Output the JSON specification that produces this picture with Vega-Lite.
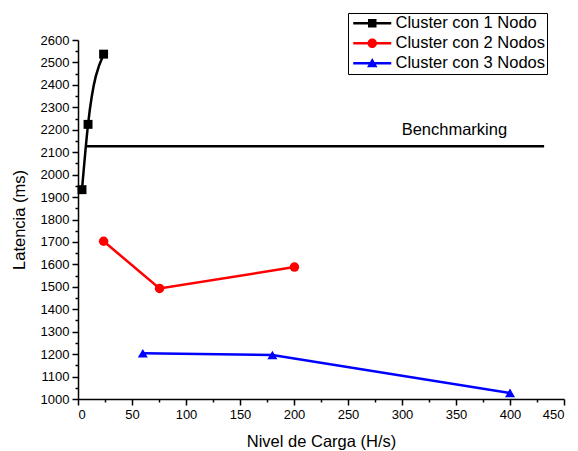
{
  "$schema": "https://vega.github.io/schema/vega-lite/v6.json",
  "width": 486,
  "height": 359,
  "autosize": "none",
  "padding": {"left": 78, "top": 40, "right": 14, "bottom": 52},
  "config": {
    "view": {"stroke": null},
    "font": "Liberation Sans",
    "axis": {
      "grid": false,
      "domainColor": "black",
      "domainWidth": 1.5,
      "tickColor": "black",
      "tickWidth": 1.5,
      "labelColor": "black",
      "titleColor": "black",
      "labelFont": "Liberation Sans",
      "titleFont": "Liberation Sans",
      "labelFontSize": 13,
      "titleFontSize": 16.5,
      "titleFontWeight": "normal"
    }
  },
  "datasets": {
    "series": [
      {"serie": "Cluster con 1 Nodo", "carga": 3.7, "latencia": 1933},
      {"serie": "Cluster con 1 Nodo", "carga": 9.3, "latencia": 2224},
      {"serie": "Cluster con 1 Nodo", "carga": 23.7, "latencia": 2537},
      {"serie": "Cluster con 2 Nodos", "carga": 23.7, "latencia": 1703},
      {"serie": "Cluster con 2 Nodos", "carga": 75.5, "latencia": 1493},
      {"serie": "Cluster con 2 Nodos", "carga": 200.4, "latencia": 1588},
      {"serie": "Cluster con 3 Nodos", "carga": 60, "latencia": 1204},
      {"serie": "Cluster con 3 Nodos", "carga": 180, "latencia": 1196},
      {"serie": "Cluster con 3 Nodos", "carga": 400, "latencia": 1027}
    ],
    "bench": [
      {"carga": 8.3, "latencia": 2126},
      {"carga": 431.6, "latencia": 2126}
    ],
    "etiqueta": [
      {"carga": 348.5, "latencia": 2176, "texto": "Benchmarking"}
    ]
  },
  "layer": [
    {
      "data": {"name": "series"},
      "mark": {"type": "point", "opacity": 0},
      "encoding": {
        "x": {"field": "carga", "type": "quantitative", "scale": {"domain": [0, 450], "nice": false, "zero": false},
          "axis": {"orient": "bottom", "values": [25, 75, 125, 175, 225, 275, 325, 375, 425], "labels": false, "domain": false, "tickSize": 3, "title": null}},
        "y": {"field": "latencia", "type": "quantitative", "scale": {"domain": [1000, 2600], "nice": false, "zero": false},
          "axis": {"orient": "left", "values": [1050, 1150, 1250, 1350, 1450, 1550, 1650, 1750, 1850, 1950, 2050, 2150, 2250, 2350, 2450, 2550], "labels": false, "domain": false, "tickSize": 3, "title": null}}
      }
    },
    {
      "data": {"name": "series"},
      "transform": [{"filter": "datum.serie === 'Cluster con 1 Nodo'"}],
      "mark": {"type": "line", "interpolate": "monotone", "color": "black", "strokeWidth": 2.5},
      "encoding": {
        "x": {"field": "carga", "type": "quantitative",
          "axis": {"orient": "bottom", "values": [0, 50, 100, 150, 200, 250, 300, 350, 400, 450], "format": "d", "tickSize": 6, "labelPadding": 3, "title": "Nivel de Carga (H/s)", "titlePadding": 12}},
        "y": {"field": "latencia", "type": "quantitative",
          "axis": {"orient": "left", "values": [1000, 1100, 1200, 1300, 1400, 1500, 1600, 1700, 1800, 1900, 2000, 2100, 2200, 2300, 2400, 2500, 2600], "format": "d", "tickSize": 6, "labelPadding": 3, "title": "Latencia (ms)", "titlePadding": 13}}
      }
    },
    {
      "data": {"name": "series"},
      "transform": [{"filter": "datum.serie === 'Cluster con 2 Nodos'"}],
      "mark": {"type": "line", "color": "#ff0000", "strokeWidth": 2.5},
      "encoding": {
        "x": {"field": "carga", "type": "quantitative", "axis": null},
        "y": {"field": "latencia", "type": "quantitative", "axis": null}
      }
    },
    {
      "data": {"name": "series"},
      "transform": [{"filter": "datum.serie === 'Cluster con 3 Nodos'"}],
      "mark": {"type": "line", "color": "#0000ff", "strokeWidth": 2.5},
      "encoding": {
        "x": {"field": "carga", "type": "quantitative", "axis": null},
        "y": {"field": "latencia", "type": "quantitative", "axis": null}
      }
    },
    {
      "data": {"name": "bench"},
      "mark": {"type": "line", "color": "black", "strokeWidth": 2.5},
      "encoding": {
        "x": {"field": "carga", "type": "quantitative", "axis": null},
        "y": {"field": "latencia", "type": "quantitative", "axis": null}
      }
    },
    {
      "data": {"name": "series"},
      "transform": [{"filter": "datum.serie === 'Cluster con 1 Nodo'"}],
      "mark": {"type": "point", "shape": "square", "filled": true, "opacity": 1, "size": 80, "color": "#000000"},
      "encoding": {
        "x": {"field": "carga", "type": "quantitative", "axis": null},
        "y": {"field": "latencia", "type": "quantitative", "axis": null}
      }
    },
    {
      "data": {"name": "series"},
      "transform": [{"filter": "datum.serie === 'Cluster con 2 Nodos'"}],
      "mark": {"type": "point", "shape": "circle", "filled": true, "opacity": 1, "size": 90, "color": "#ff0000"},
      "encoding": {
        "x": {"field": "carga", "type": "quantitative", "axis": null},
        "y": {"field": "latencia", "type": "quantitative", "axis": null}
      }
    },
    {
      "data": {"name": "series"},
      "transform": [{"filter": "datum.serie === 'Cluster con 3 Nodos'"}],
      "mark": {"type": "point", "shape": "triangle-up", "filled": true, "opacity": 1, "size": 100, "color": "#0000ff"},
      "encoding": {
        "x": {"field": "carga", "type": "quantitative", "axis": null},
        "y": {"field": "latencia", "type": "quantitative", "axis": null}
      }
    },
    {
      "data": {"name": "series"},
      "mark": {"type": "point", "filled": true, "opacity": 0},
      "encoding": {
        "x": {"field": "carga", "type": "quantitative", "axis": null},
        "y": {"field": "latencia", "type": "quantitative", "axis": null},
        "color": {"field": "serie", "type": "nominal",
          "scale": {"domain": ["Cluster con 1 Nodo", "Cluster con 2 Nodos", "Cluster con 3 Nodos"], "range": ["#000000", "#ff0000", "#0000ff"]},
          "legend": {"title": null, "orient": "none", "legendX": 270, "legendY": -27, "symbolSize": 100, "symbolOpacity": 1, "symbolStrokeWidth": 0, "labelFontSize": 16.5, "labelFont": "Liberation Sans", "labelColor": "black", "strokeColor": "black", "fillColor": "white", "padding": 2, "rowPadding": 3, "symbolOffset": 14, "labelOffset": 15}},
        "shape": {"field": "serie", "type": "nominal",
          "scale": {"domain": ["Cluster con 1 Nodo", "Cluster con 2 Nodos", "Cluster con 3 Nodos"],
            "range": ["M-3.8,-0.25H3.8V0.25H-3.8Z M-0.85,-0.85H0.85V0.85H-0.85Z", "M-3.8,-0.25H3.8V0.25H-3.8Z M-0.95,0A0.95,0.95 0 1,1 0.95,0A0.95,0.95 0 1,1 -0.95,0Z", "M-3.8,-0.25H3.8V0.25H-3.8Z M0,-1.05L1.05,0.8H-1.05Z"]},
          "legend": {"title": null, "orient": "none", "legendX": 270, "legendY": -27, "symbolSize": 100, "symbolOpacity": 1, "symbolStrokeWidth": 0, "labelFontSize": 16.5, "labelFont": "Liberation Sans", "labelColor": "black", "strokeColor": "black", "fillColor": "white", "padding": 2, "rowPadding": 3, "symbolOffset": 14, "labelOffset": 15}}
      }
    },
    {
      "data": {"name": "etiqueta"},
      "mark": {"type": "text", "align": "center", "baseline": "alphabetic", "fontSize": 16.5, "font": "Liberation Sans", "color": "black"},
      "encoding": {
        "x": {"field": "carga", "type": "quantitative", "axis": null},
        "y": {"field": "latencia", "type": "quantitative", "axis": null},
        "text": {"field": "texto", "type": "nominal"}
      }
    }
  ],
  "resolve": {"axis": {"x": "independent", "y": "independent"}}
}
